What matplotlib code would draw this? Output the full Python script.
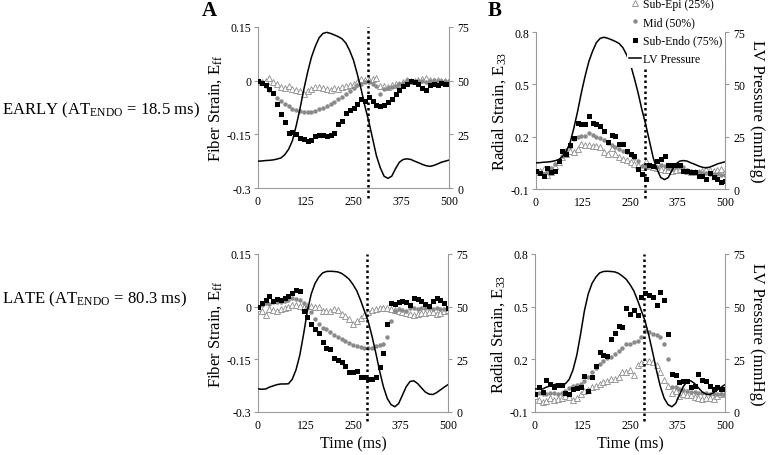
import matplotlib
matplotlib.use("Agg")
import matplotlib.pyplot as plt
from matplotlib.lines import Line2D

plt.rcParams['font.family'] = ['Liberation Serif', 'DejaVu Serif']
plt.rcParams['mathtext.fontset'] = 'stix'

# sample times (ms)
time_ms = list(range(0, 501, 10))

# LV pressure (mmHg)
pressure_early = [12.5, 12.6, 12.8, 12.9, 13.1, 13.5, 14.0, 15.5, 18.0, 22.0,
                  29.0, 37.0, 46.0, 54.0, 61.0, 66.0, 70.0, 72.0, 72.5, 72.0,
                  71.3, 70.5, 69.5, 67.5, 64.0, 59.5, 53.0, 46.0, 38.0, 31.0,
                  23.0, 15.0, 9.5, 5.5, 4.5, 5.5, 9.0, 12.0, 13.3, 13.6,
                  13.3, 12.5, 11.8, 11.0, 10.4, 10.1, 10.5, 11.2, 12.0, 12.5, 13.0]
pressure_late = [11.0, 10.8, 10.9, 11.8, 12.4, 13.0, 13.3, 13.3, 13.4, 15.5,
                 20.0, 27.0, 37.0, 48.0, 56.0, 61.0, 64.0, 66.0, 66.7, 66.8,
                 66.7, 66.5, 65.8, 64.5, 63.0, 60.5, 57.5, 53.0, 48.0, 43.0,
                 36.0, 28.0, 19.5, 12.0, 6.5, 3.5, 2.5, 4.0, 8.0, 12.0,
                 14.5, 14.8, 13.5, 11.5, 9.5, 8.5, 8.3, 9.2, 10.5, 11.8, 13.0]

# fiber strain, early activation
early_ff_epi = [0.0, -0.005, 0.0, 0.008, -0.005, -0.010, -0.018, -0.020, -0.015, -0.022,
                -0.025, -0.030, -0.038, -0.030, -0.022, -0.018, -0.018, -0.020, -0.022, -0.025,
                -0.020, -0.022, -0.018, -0.015, -0.012, -0.010, -0.005, 0.006, 0.003, 0.002,
                0.006, 0.008, -0.015, -0.016, -0.018, -0.012, -0.010, -0.008, -0.003, 0.002,
                -0.002, 0.0, 0.003, 0.005, 0.007, 0.002, -0.002, 0.003, 0.0, -0.002, 0.0]
early_ff_mid = [0.0, -0.005, -0.015, -0.025, -0.035, -0.048, -0.058, -0.065, -0.072, -0.078,
                -0.082, -0.086, -0.087, -0.088, -0.088, -0.085, -0.080, -0.075, -0.070, -0.065,
                -0.060, -0.052, -0.046, -0.038, -0.030, -0.020, -0.012, -0.008, -0.004, -0.005,
                -0.008, -0.015, -0.038, -0.022, -0.020, -0.018, -0.014, -0.010, -0.006, 0.002,
                -0.004, 0.0, -0.002, 0.0, -0.004, 0.0, 0.002, -0.002, 0.0, -0.002, 0.0]
early_ff_endo = [0.0, -0.006, -0.012, -0.022, -0.035, -0.065, -0.092, -0.115, -0.145, -0.143,
                 -0.150, -0.160, -0.163, -0.168, -0.165, -0.155, -0.153, -0.152, -0.155, -0.152,
                 -0.145, -0.120, -0.112, -0.090, -0.083, -0.075, -0.065, -0.052, -0.058, -0.046,
                 -0.058, -0.068, -0.070, -0.068, -0.060, -0.050, -0.036, -0.025, -0.015, -0.008,
                 0.0, -0.004, -0.010, -0.020, -0.025, -0.012, -0.008, -0.012, -0.006, -0.008, -0.008]

# radial strain, early activation
early_rr_epi = [0.0, 0.005, 0.012, -0.020, -0.005, 0.030, 0.053, 0.085, 0.100, 0.120,
                0.110, 0.130, 0.158, 0.155, 0.150, 0.148, 0.146, 0.143, 0.110, 0.098,
                0.135, 0.100, 0.085, 0.073, 0.065, 0.055, 0.045, 0.035, 0.025, 0.060,
                0.030, 0.025, 0.020, 0.015, 0.010, 0.008, 0.005, 0.010, 0.015, 0.010,
                0.005, 0.0, -0.004, 0.0, 0.005, 0.015, 0.010, 0.005, 0.010, 0.015, -0.004]
early_rr_mid = [-0.005, -0.010, -0.013, -0.004, 0.020, 0.045, 0.065, 0.090, 0.125, 0.140,
                0.185, 0.197, 0.205, 0.206, 0.220, 0.210, 0.198, 0.190, 0.180, 0.165,
                0.150, 0.140, 0.130, 0.120, 0.110, 0.095, 0.080, 0.060, 0.034, 0.025,
                0.030, 0.030, 0.025, 0.038, 0.030, 0.020, 0.015, 0.025, 0.025, 0.025,
                0.010, 0.005, 0.0, -0.005, -0.008, -0.010, -0.014, -0.015, -0.014, -0.020, -0.020]
early_rr_endo = [0.005, -0.010, -0.025, 0.020, -0.005, 0.005, 0.060, 0.120, 0.100, 0.150,
                 0.190, 0.280, 0.270, 0.275, 0.320, 0.280, 0.275, 0.260, 0.230, 0.170,
                 0.210, 0.205, 0.160, 0.158, 0.120, 0.100, 0.090, 0.015, -0.014, -0.045,
                 0.035, 0.030, 0.060, 0.072, 0.090, 0.035, 0.035, 0.035, 0.035, 0.005,
                 0.005, 0.0, -0.004, -0.023, -0.027, -0.045, -0.010, -0.030, -0.045, -0.058, -0.052]

# fiber strain, late activation
late_ff_epi = [-0.005, -0.012, -0.025, -0.008, -0.010, -0.012, -0.008, -0.005, -0.002, 0.005,
               0.006, 0.002, 0.0, 0.002, 0.003, 0.0, -0.002, -0.012, -0.012, -0.013,
               -0.008, -0.010, -0.020, -0.028, -0.035, -0.048, -0.040, -0.032, -0.025, -0.016,
               -0.010, -0.006, -0.005, -0.003, -0.005, -0.008, -0.010, -0.012, -0.015, -0.018,
               -0.022, -0.025, -0.020, -0.018, -0.017, -0.015, -0.014, -0.022, -0.018, -0.012, -0.010]
late_ff_mid = [0.0, 0.005, 0.010, 0.008, 0.012, 0.013, 0.014, 0.016, 0.018, 0.024,
               0.022, 0.018, 0.010, 0.0, -0.016, -0.035, -0.048, -0.060, -0.064, -0.072,
               -0.080, -0.087, -0.093, -0.098, -0.104, -0.108, -0.112, -0.116, -0.118, -0.119,
               -0.118, -0.112, -0.110, -0.107, -0.085, -0.040, -0.012, -0.008, -0.010, -0.012,
               -0.005, -0.005, -0.007, -0.005, -0.003, -0.005, -0.006, -0.004, -0.006, -0.008, -0.008]
late_ff_endo = [0.0, 0.010, 0.018, 0.030, 0.017, 0.021, 0.019, 0.025, 0.030, 0.040,
                0.047, 0.045, -0.012, -0.030, -0.050, -0.064, -0.075, -0.100, -0.117, -0.122,
                -0.145, -0.152, -0.158, -0.170, -0.185, -0.187, -0.183, -0.200, -0.200, -0.205,
                -0.205, -0.200, -0.172, -0.132, -0.050, 0.010, 0.008, 0.014, 0.017, 0.012,
                0.005, 0.025, 0.022, 0.017, 0.008, 0.003, 0.016, 0.026, 0.020, 0.010, -0.005]

# radial strain, late activation
late_rr_epi = [-0.010, -0.030, -0.042, -0.038, -0.022, -0.030, -0.028, -0.020, -0.010, -0.015,
               -0.032, -0.020, 0.005, 0.020, 0.028, 0.040, 0.048, 0.060, 0.070, 0.076,
               0.086, 0.090, 0.100, 0.125, 0.130, 0.140, 0.110, 0.170, 0.180, 0.190,
               0.190, 0.182, 0.165, 0.130, 0.080, 0.050, 0.010, 0.020, -0.010, 0.0,
               -0.004, -0.005, -0.015, -0.020, -0.025, -0.020, -0.018, -0.025, -0.010, 0.002, 0.010]
late_rr_mid = [0.005, 0.008, 0.004, 0.004, 0.010, 0.008, 0.005, 0.006, 0.020, 0.035,
               0.048, 0.055, 0.062, 0.077, 0.100, 0.125, 0.148, 0.172, 0.190, 0.210,
               0.215, 0.228, 0.250, 0.265, 0.285, 0.290, 0.300, 0.305, 0.330, 0.362,
               0.355, 0.345, 0.340, 0.330, 0.290, 0.200, 0.045, 0.040, 0.030, 0.025,
               0.022, 0.015, 0.012, 0.010, 0.008, 0.006, 0.004, 0.0, 0.0, 0.0, 0.0]
late_rr_endo = [0.001, 0.040, 0.012, 0.080, 0.060, 0.040, 0.055, 0.055, 0.010, 0.0,
                0.030, 0.035, 0.045, 0.105, 0.020, 0.100, 0.163, 0.240, 0.225, 0.220,
                0.315, 0.350, 0.390, 0.385, 0.495, 0.460, 0.480, 0.450, 0.555, 0.580,
                0.565, 0.555, 0.510, 0.585, 0.540, 0.345, 0.115, 0.110, 0.070, 0.075,
                0.075, 0.040, 0.050, 0.115, 0.080, 0.075, 0.050, 0.030, 0.040, 0.030, 0.030]

end_systole_ms = 288

x_ticks = [0, 125, 250, 375, 500]
ff_ticks = [-0.3, -0.15, 0, 0.15]
ff_labels = ['-0.3', '-0.15', '0', '0.15']
rr_ticks = [-0.1, 0.2, 0.5, 0.8]
rr_labels = ['-0.1', '0.2', '0.5', '0.8']
p_ticks = [0, 25, 50, 75]

SPINE = '#9a9a9a'
EPI_C = '#8c8c8c'
MID_C = '#8a8a8a'
TICK_FS = 8.5


def draw_panel(rect, epi, mid, endo, pressure, yticks, ylabels, ylabel, xlabel=False):
    ax = fig.add_axes(rect)
    ax.plot(time_ms, epi, linestyle='none', marker='^', ms=3.8, mfc='white',
            mec=EPI_C, mew=0.6, zorder=3)
    ax.plot(time_ms, mid, linestyle='none', marker='o', ms=3.2, mfc=MID_C,
            mec=MID_C, mew=0, zorder=3)
    ax.plot(time_ms, endo, linestyle='none', marker='s', ms=3.6, mfc='black',
            mec='black', mew=0, zorder=3)
    ax.set_xlim(0, 500)
    ax.set_ylim(yticks[0], yticks[-1])
    ax.set_xticks(x_ticks)
    ax.set_yticks(yticks)
    ax.set_yticklabels(ylabels)
    ax.set_ylabel(ylabel, fontsize=12, labelpad=2)
    if xlabel:
        ax.set_xlabel('Time (ms)', fontsize=11.5, labelpad=3)
    ax.tick_params(axis='y', direction='out', length=3, color=SPINE, labelsize=TICK_FS, pad=2)
    ax.tick_params(axis='x', length=0, labelsize=TICK_FS, pad=5)
    for side in ['top', 'right']:
        ax.spines[side].set_visible(False)
    for side in ['left', 'bottom']:
        ax.spines[side].set_color(SPINE)

    ax2 = ax.twinx()
    ax2.plot(time_ms, pressure, color='black', lw=1.1, zorder=2)
    ax2.set_ylim(0, 75)
    ax2.set_yticks(p_ticks)
    ax2.tick_params(axis='y', direction='out', length=3, color=SPINE, labelsize=TICK_FS, pad=3)
    for side in ['top', 'left', 'bottom']:
        ax2.spines[side].set_visible(False)
    ax2.spines['right'].set_color(SPINE)
    ax2.axvline(end_systole_ms, ymin=-0.06, ymax=1.0, color='black', lw=1.8,
                linestyle=(0, (1, 1.2)), clip_on=False, zorder=4)
    return ax, ax2


fig = plt.figure(figsize=(7.69, 4.56), dpi=100)

ff_label = r'Fiber Strain, E$_\mathregular{ff}$'
rr_label = r'Radial Strain, E$_\mathregular{33}$'

ax_a1, p_a1 = draw_panel([0.3355, 0.5855, 0.2484, 0.3531], early_ff_epi, early_ff_mid,
                         early_ff_endo, pressure_early, ff_ticks, ff_labels, ff_label)
ax_b1, p_b1 = draw_panel([0.6970, 0.5833, 0.2458, 0.3443], early_rr_epi, early_rr_mid,
                         early_rr_endo, pressure_early, rr_ticks, rr_labels, rr_label)
ax_a2, p_a2 = draw_panel([0.3355, 0.0943, 0.2471, 0.3465], late_ff_epi, late_ff_mid,
                         late_ff_endo, pressure_late, ff_ticks, ff_labels, ff_label, xlabel=True)
ax_b2, p_b2 = draw_panel([0.6957, 0.0943, 0.2471, 0.3465], late_rr_epi, late_rr_mid,
                         late_rr_endo, pressure_late, rr_ticks, rr_labels, rr_label, xlabel=True)

for p in [p_b1, p_b2]:
    p.set_ylabel('LV Pressure (mmHg)', fontsize=12, rotation=270, labelpad=14)

fig.text(0.262, 0.997, 'A', fontsize=15, fontweight='bold', va='top', ha='left')
fig.text(0.634, 0.997, 'B', fontsize=15, fontweight='bold', va='top', ha='left')

fig.text(0.003, 0.758, r'EARLY (AT$_\mathregular{ENDO}$ = 18.5 ms)', fontsize=12,
         va='center', ha='left')
fig.text(0.003, 0.344, r'LATE (AT$_\mathregular{ENDO}$ = 80.3 ms)', fontsize=12,
         va='center', ha='left')

handles = [
    Line2D([], [], linestyle='none', marker='^', ms=3.8, mfc='white', mec=EPI_C, mew=0.6),
    Line2D([], [], linestyle='none', marker='o', ms=3.2, mfc=MID_C, mec=MID_C, mew=0),
    Line2D([], [], linestyle='none', marker='s', ms=3.6, mfc='black', mec='black', mew=0),
    Line2D([], [], color='black', lw=1.1),
]
labels = ['Sub-Epi (25%)', 'Mid (50%)', 'Sub-Endo (75%)', 'LV Pressure']
leg = fig.legend(handles, labels, loc='upper left', bbox_to_anchor=(0.815, 1.008),
                 fontsize=8.5, frameon=True, framealpha=1, edgecolor='none',
                 handlelength=1.0, handletextpad=0.2, labelspacing=0.55,
                 borderpad=0.2, borderaxespad=0)
leg.get_frame().set_facecolor('white')
leg.set_zorder(10)

fig.savefig('out.png', dpi=100)
